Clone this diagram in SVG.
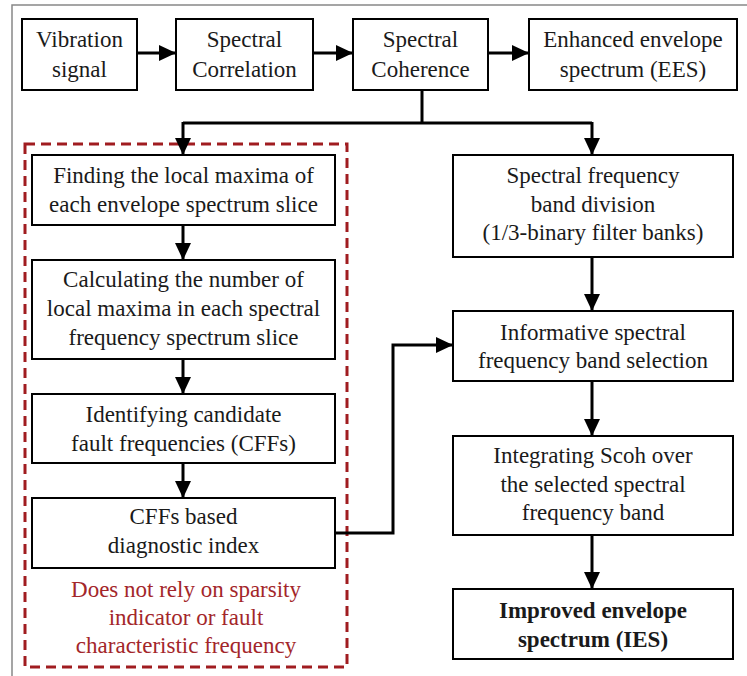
<svg xmlns="http://www.w3.org/2000/svg" width="747" height="676" viewBox="0 0 747 676">
<defs>
<marker id="ah" viewBox="0 0 17 16" refX="17" refY="8" markerWidth="17" markerHeight="16" markerUnits="userSpaceOnUse" orient="auto">
<path d="M0,0 L17,8 L0,16 Z" fill="#000"/>
</marker>
</defs>
<style>
.box{fill:#fff;stroke:#000;stroke-width:2}
.t{font-family:"Liberation Serif","Times New Roman","DejaVu Serif",serif;font-size:23px;fill:#1a1a1a;text-anchor:middle}
.b{font-weight:bold}
.red{fill:#a3262a}
.c{fill:none;stroke:#000;stroke-width:3}
</style>
<rect width="747" height="676" fill="#fff"/>
<path d="M12,676 V5 H747" fill="none" stroke="#888" stroke-width="1.5"/>
<g id="dashed-group">
<rect x="25" y="144" width="322" height="523" fill="none" stroke="#a01c20" stroke-width="3" stroke-dasharray="10,6"/>
<text class="t red" x="186" y="597">Does not rely on sparsity</text>
<text class="t red" x="186" y="625">indicator or fault</text>
<text class="t red" x="186" y="653">characteristic frequency</text>
</g>
<g id="connectors">
<path class="c" d="M137,53 H176" marker-end="url(#ah)"/>
<path class="c" d="M313,53 H353" marker-end="url(#ah)"/>
<path class="c" d="M488,53 H529" marker-end="url(#ah)"/>
<path class="c" d="M422,90 V123"/>
<path class="c" d="M183,123 H592"/>
<path class="c" d="M183,122 V155" marker-end="url(#ah)"/>
<path class="c" d="M592,122 V155" marker-end="url(#ah)"/>
<path class="c" d="M183,225 V260" marker-end="url(#ah)"/>
<path class="c" d="M183,359 V394" marker-end="url(#ah)"/>
<path class="c" d="M183,463 V498" marker-end="url(#ah)"/>
<path class="c" d="M592,257 V311" marker-end="url(#ah)"/>
<path class="c" d="M592,381 V436" marker-end="url(#ah)"/>
<path class="c" d="M592,535 V589" marker-end="url(#ah)"/>
<path class="c" d="M335,533 H393 V345 H453" marker-end="url(#ah)"/>
</g>
<g id="n-vibration">
<rect class="box" x="22" y="19" width="115" height="71"/>
<text class="t" x="79.5" y="47">Vibration</text>
<text class="t" x="79.5" y="77">signal</text>
</g>
<g id="n-correlation">
<rect class="box" x="176" y="19" width="137" height="71"/>
<text class="t" x="244.5" y="47">Spectral</text>
<text class="t" x="244.5" y="77">Correlation</text>
</g>
<g id="n-coherence">
<rect class="box" x="353" y="19" width="135" height="71"/>
<text class="t" x="420.5" y="47">Spectral</text>
<text class="t" x="420.5" y="77">Coherence</text>
</g>
<g id="n-ees">
<rect class="box" x="529" y="19" width="208" height="71"/>
<text class="t" x="633" y="47">Enhanced envelope</text>
<text class="t" x="633" y="77">spectrum (EES)</text>
</g>
<g id="n-finding">
<rect class="box" x="32" y="155" width="303" height="70"/>
<text class="t" x="183.5" y="183">Finding the local maxima of</text>
<text class="t" x="183.5" y="212">each envelope spectrum slice</text>
</g>
<g id="n-calculating">
<rect class="box" x="32" y="260" width="303" height="99"/>
<text class="t" x="183.5" y="287">Calculating the number of</text>
<text class="t" x="183.5" y="316">local maxima in each spectral</text>
<text class="t" x="183.5" y="345">frequency spectrum slice</text>
</g>
<g id="n-identifying">
<rect class="box" x="32" y="394" width="303" height="69"/>
<text class="t" x="183.5" y="422">Identifying candidate</text>
<text class="t" x="183.5" y="451">fault frequencies (CFFs)</text>
</g>
<g id="n-cffs">
<rect class="box" x="32" y="498" width="303" height="70"/>
<text class="t" x="183.5" y="524">CFFs based</text>
<text class="t" x="183.5" y="553">diagnostic index</text>
</g>
<g id="n-division">
<rect class="box" x="453" y="155" width="280" height="102"/>
<text class="t" x="593" y="183">Spectral frequency</text>
<text class="t" x="593" y="212">band division</text>
<text class="t" x="593" y="240">(1/3-binary filter banks)</text>
</g>
<g id="n-informative">
<rect class="box" x="453" y="311" width="280" height="70"/>
<text class="t" x="593" y="340">Informative spectral</text>
<text class="t" x="593" y="368">frequency band selection</text>
</g>
<g id="n-integrating">
<rect class="box" x="453" y="436" width="280" height="99"/>
<text class="t" x="593" y="463">Integrating Scoh over</text>
<text class="t" x="593" y="492">the selected spectral</text>
<text class="t" x="593" y="520">frequency band</text>
</g>
<g id="n-ies">
<rect class="box" x="453" y="589" width="280" height="70"/>
<text class="t b" x="593" y="618">Improved envelope</text>
<text class="t b" x="593" y="647">spectrum (IES)</text>
</g>
</svg>
